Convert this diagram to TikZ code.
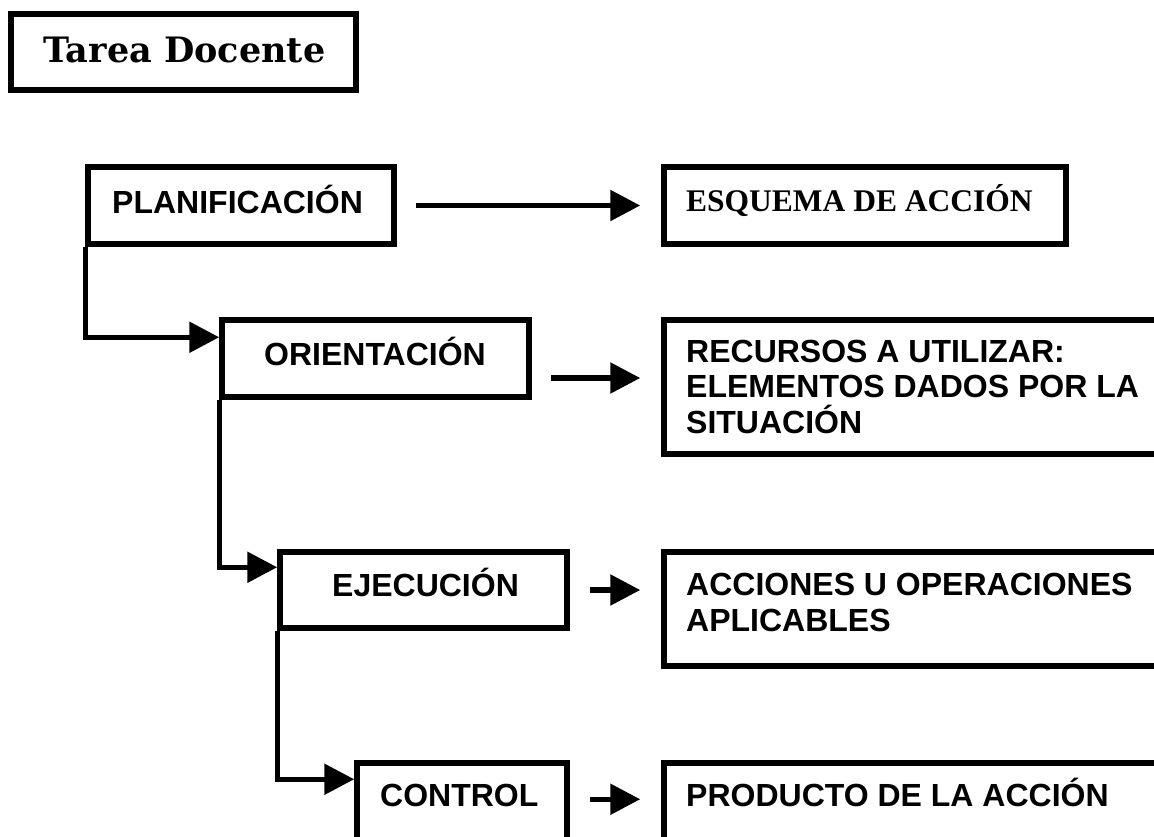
\documentclass[tikz,border=0pt]{standalone}
\usepackage{fontspec}
\setmainfont{Liberation Sans}
\newfontfamily\serifbold{Liberation Serif}
\newfontfamily\titlefont{DejaVu Serif}
\usetikzlibrary{arrows.meta}
\begin{document}
\begin{tikzpicture}[x=1pt,y=-1pt,
  box/.style={draw=black, line width=5.5pt, rectangle, inner sep=0pt, fill=none},
  lbl/.style={inner sep=0pt, anchor=base west, font=\bfseries\fontsize{32}{35.5}\selectfont, align=left},
  arr/.style={line width=5.5pt, -{Triangle[length=30pt,width=30pt]}}
]
\useasboundingbox (0,0) rectangle (1154,836);
\clip (0,0) rectangle (1154,836);
\fill[white] (0,0) rectangle (1154,836);

% boxes (center lines)
\node[box, minimum width=345pt, minimum height=76pt] (tarea) at (183.5,52) {};
\node[box, minimum width=306pt, minimum height=77pt] (plan) at (241,205.5) {};
\node[box, minimum width=402pt, minimum height=77pt] (esq) at (865,205.5) {};
\node[box, minimum width=307pt, minimum height=77pt] (orient) at (375.5,358.5) {};
\node[box, minimum width=520pt, minimum height=134pt] (recur) at (924,387) {};
\node[box, minimum width=287pt, minimum height=76pt] (ejec) at (423.5,590) {};
\node[box, minimum width=520pt, minimum height=114pt] (acc) at (924,609) {};
\node[box, minimum width=210pt, minimum height=100pt] (ctrl) at (462,813) {};
\node[box, minimum width=520pt, minimum height=100pt] (prod) at (924,813) {};

% texts
\node[inner sep=0pt, anchor=base west, font=\titlefont\bfseries\fontsize{35}{40}\selectfont] (tareaT) at (43,62) {Tarea Docente};
\node[lbl] (planT) at (112,213) {PLANIFICACIÓN};
\node[inner sep=0pt, anchor=base west, font=\serifbold\bfseries\fontsize{31.5}{35}\selectfont] (esqT) at (686,211) {ESQUEMA DE ACCIÓN};
\node[lbl] (orientT) at (264,365) {ORIENTACIÓN};
\node[lbl] (recurT) at (686,433) {RECURSOS A UTILIZAR:\\ELEMENTOS DADOS POR LA\\SITUACIÓN};
\node[lbl] (ejecT) at (332,596) {EJECUCIÓN};
\node[lbl] (accT) at (686,631) {ACCIONES U OPERACIONES\\APLICABLES};
\node[lbl] (ctrlT) at (380,806) {CONTROL};
\node[lbl] (prodT) at (686,806) {PRODUCTO DE LA ACCIÓN};

% connectors
\draw[arr] ([xshift=19pt]plan.east) -- ([xshift=-21pt]esq.west |- plan.east);
\draw[arr] (plan.south west) |- ([yshift=-20pt]orient.north west);
\draw[arr] ([xshift=19pt,yshift=-19.5pt]orient.east) -- ([xshift=-21pt,yshift=9pt]recur.west);
\draw[arr] (orient.south west) |- ([yshift=-18pt]ejec.north west);
\draw[arr] ([xshift=20pt]ejec.east) -- ([xshift=-21pt]acc.west |- ejec.east);
\draw[arr] (ejec.south west) |- ([yshift=-19pt]ctrl.north west);
\draw[arr] ([xshift=20pt,yshift=-39pt]ctrl.north east) -- ([xshift=-21pt,yshift=-39pt]prod.north west);
\end{tikzpicture}
\end{document}
